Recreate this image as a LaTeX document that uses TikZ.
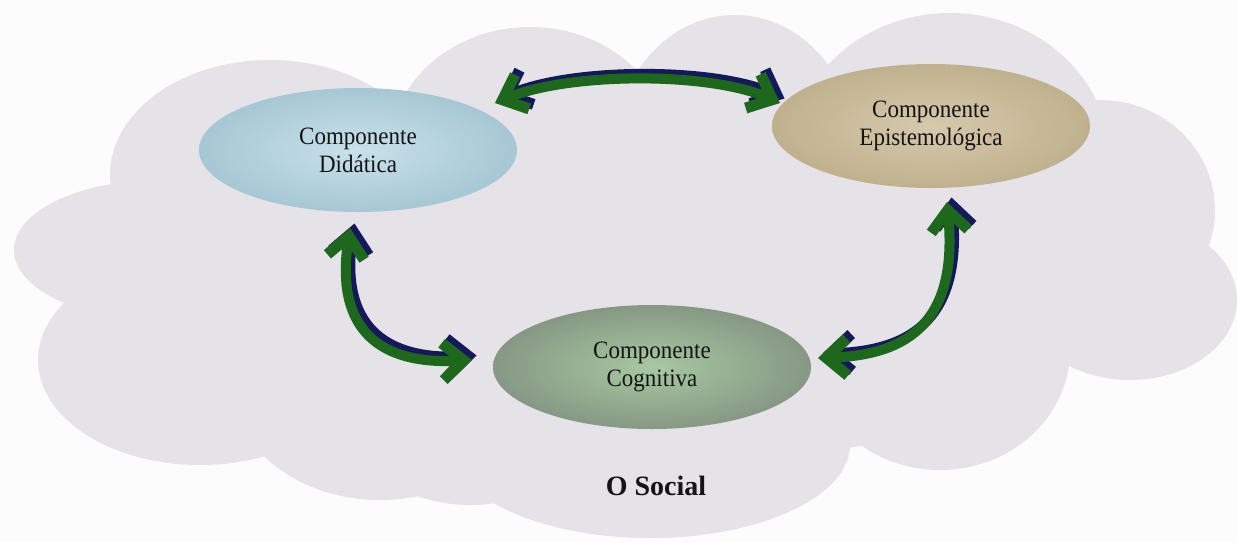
\documentclass[tikz,border=0pt]{standalone}
\usepackage{fontspec}
\setmainfont{Liberation Serif}
\newfontfamily\labelfont{Liberation Serif}[FakeStretch=0.92]
\usetikzlibrary{arrows.meta,shapes.geometric,calc}

\definecolor{pagebg}{RGB}{253,252,253}
\definecolor{cloudfill}{RGB}{229,226,232}
\definecolor{linkgreen}{RGB}{30,104,30}
\definecolor{linknavy}{RGB}{22,24,92}
\definecolor{labeltext}{RGB}{20,20,20}
\definecolor{didIn}{RGB}{200,225,234}
\definecolor{didOut}{RGB}{166,199,212}
\definecolor{epiIn}{RGB}{214,201,172}
\definecolor{epiOut}{RGB}{192,177,142}
\definecolor{cogIn}{RGB}{168,200,162}
\definecolor{cogOut}{RGB}{134,152,132}

\tikzset{
  lobe/.style={fill=cloudfill},
  comp/.style={ellipse, minimum width=318pt, minimum height=124pt, inner sep=0pt,
    shading=radial, align=center, text=labeltext,
    font=\labelfont\fontsize{25}{28}\selectfont},
  barbtip/.tip={Straight Barb[length=21pt,width=37pt,line width=11pt]},
  link/.style={line width=10pt, barbtip-barbtip},
  linkshade/.style={link, draw=linknavy, transform canvas={xshift=4.5pt, yshift=4.5pt}},
  linkmain/.style={link, draw=linkgreen},
}

\begin{document}
\begin{tikzpicture}[x=1pt,y=-1pt]
\useasboundingbox[fill=pagebg] (0,0) rectangle (1237,542);

% cloud: union of overlapping lobes
\fill[lobe] (640,270) ellipse [x radius=460pt, y radius=200pt];
\fill[lobe] (270,175) ellipse [x radius=160pt, y radius=115pt];
\fill[lobe] (530,150) ellipse [x radius=140pt, y radius=123pt];
\fill[lobe] (735,150) ellipse [x radius=120pt, y radius=135pt];
\fill[lobe] (950,160) ellipse [x radius=160pt, y radius=147pt];
\fill[lobe] (1100,210) ellipse [x radius=115pt, y radius=110pt];
\fill[lobe] (1130,300) ellipse [x radius=107pt, y radius=80pt];
\fill[lobe] (940,350) ellipse [x radius=130pt, y radius=120pt];
\fill[lobe] (655,395) ellipse [x radius=200pt, y radius=143pt];
\fill[lobe] (650,445) ellipse [x radius=200pt, y radius=93pt];
\fill[lobe] (470,400) ellipse [x radius=130pt, y radius=105pt];
\fill[lobe] (380,380) ellipse [x radius=150pt, y radius=120pt];
\fill[lobe] (200,360) ellipse [x radius=162pt, y radius=105pt];
\fill[lobe] (160,250) ellipse [x radius=146pt, y radius=70pt];

% the three components
\node[comp, inner color=didIn, outer color=didOut] (did) at (358,150) {Componente\\Didática};
\node[comp, inner color=epiIn, outer color=epiOut] (epi) at (931,126) {Componente\\Epistemológica};
\node[comp, inner color=cogIn, outer color=cogOut] (cog) at (652,367) {Componente\\Cognitiva};

\node[font=\bfseries\fontsize{28}{32}\selectfont, text=labeltext] (social) at (656,486) {O Social};

% two-way links, each with a dark offset shade under the green stroke
\foreach \sty in {linkshade,linkmain}{
  \draw[\sty] ($(did.center)+(137,-47)$)
     .. controls ($(did.center)+(212,-78)$) and ($(epi.center)+(-221,-54)$)
     .. ($(epi.center)+(-151,-23)$);
  \draw[\sty] ($(did.center)+(-8,78)$)
     .. controls ($(did.center)+(-23,180)$) and ($(cog.center)+(-272,-2)$)
     .. ($(cog.center)+(-180,-7)$);
  \draw[\sty] ($(epi.center)+(16,76)$)
     .. controls ($(epi.center)+(27,194)$) and ($(cog.center)+(258,-12)$)
     .. ($(cog.center)+(166,-9)$);
}
\end{tikzpicture}
\end{document}
